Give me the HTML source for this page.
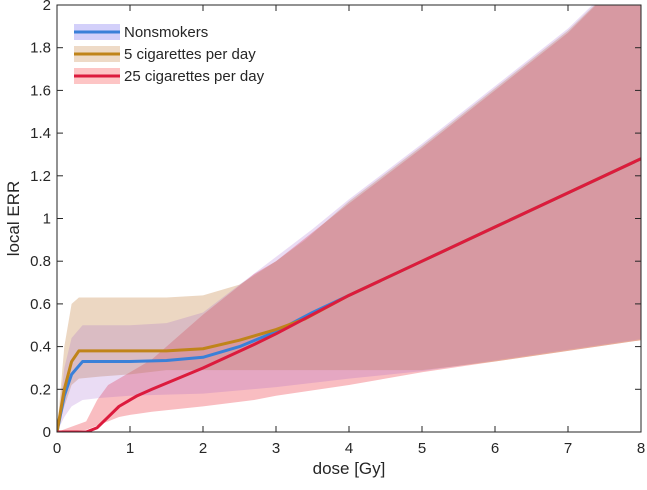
<!DOCTYPE html>
<html><head><meta charset="utf-8"><style>
body{margin:0;background:#fff;font-family:"Liberation Sans",sans-serif}
svg text{font-family:"Liberation Sans",sans-serif;fill:#262626}
</style></head><body>
<svg id="c" width="647" height="485"></svg>
<script>
const xTicks=[0,1,2,3,4,5,6,7,8];
const yTicks=[0,0.2,0.4,0.6,0.8,1,1.2,1.4,1.6,1.8,2];
const yTickLabels=["0","0.2","0.4","0.6","0.8","1","1.2","1.4","1.6","1.8","2"];
const nsDose=[0,0.1,0.2,0.35,0.6,1,1.5,2,2.5,3,3.5,4,5,6,7,8];
const nsMid=[0,0.17,0.27,0.33,0.33,0.33,0.335,0.35,0.40,0.47,0.56,0.64,0.80,0.96,1.12,1.28];
const nsUp=[0,0.3,0.44,0.5,0.5,0.5,0.51,0.56,0.69,0.82,0.95,1.09,1.35,1.62,1.89,2.22];
const nsLo=[0,0.07,0.12,0.15,0.16,0.17,0.175,0.18,0.195,0.21,0.23,0.25,0.285,0.335,0.385,0.435];
const c5Dose=[0,0.1,0.2,0.3,0.6,1,1.5,2,2.5,3,3.4,4,5,6,7,8];
const c5Mid=[0,0.2,0.33,0.38,0.38,0.38,0.38,0.39,0.43,0.48,0.53,0.64,0.80,0.96,1.12,1.28];
const c5Up=[0,0.4,0.6,0.63,0.63,0.63,0.63,0.64,0.69,0.8,0.9,1.08,1.34,1.61,1.88,2.21];
const c5Lo=[0,0.12,0.22,0.25,0.26,0.27,0.29,0.29,0.29,0.29,0.29,0.29,0.29,0.33,0.38,0.43];
const s25Dose=[0,0.4,0.55,0.7,0.85,1,1.1,1.3,2,2.7,3,4,5,6,7,8];
const s25Mid=[0,0,0.02,0.07,0.12,0.15,0.17,0.2,0.3,0.41,0.46,0.64,0.80,0.96,1.12,1.28];
const s25Up=[0,0.05,0.15,0.22,0.25,0.28,0.3,0.34,0.55,0.74,0.80,1.07,1.33,1.60,1.87,2.21];
const s25Lo=[0,0.01,0.03,0.05,0.07,0.08,0.085,0.095,0.12,0.15,0.17,0.22,0.28,0.33,0.38,0.43];

const X0=57,X1=641,Y0=432,Y1=5;
const xs=v=>X0+(v/8)*(X1-X0);
const ys=v=>Y0-(v/2)*(Y0-Y1);
const svg=document.getElementById('c');
const NS='http://www.w3.org/2000/svg';
function mk(t,a){const e=document.createElementNS(NS,t);for(const k in a)e.setAttribute(k,a[k]);svg.appendChild(e);return e;}
const defs=mk('defs',{});
const cp=document.createElementNS(NS,'clipPath');cp.setAttribute('id','clip');
const cr=document.createElementNS(NS,'rect');cr.setAttribute('x',X0);cr.setAttribute('y',Y1);cr.setAttribute('width',X1-X0);cr.setAttribute('height',Y0-Y1);
cp.appendChild(cr);defs.appendChild(cp);
function band(d,up,lo,fill,name){
  let p='M'+d.map((v,i)=>xs(v)+','+ys(up[i])).join('L');
  for(let i=d.length-1;i>=0;i--)p+='L'+xs(d[i])+','+ys(lo[i]);
  const e=mk('path',{d:p+'Z',fill:fill,'clip-path':'url(#clip)'});
  
  
}
function line(d,m,col,name){
  const e=mk('path',{d:'M'+d.map((v,i)=>xs(v)+','+ys(m[i])).join('L'),fill:'none',stroke:col,'stroke-width':3,'stroke-linejoin':'round','clip-path':'url(#clip)'});
  
  
}
band(s25Dose,s25Up,s25Lo,'rgba(240,90,100,0.4)','band-25-cigarettes');
band(c5Dose,c5Up,c5Lo,'rgba(200,140,80,0.35)','band-5-cigarettes');
band(nsDose,nsUp,nsLo,'rgba(150,80,200,0.2)','band-nonsmokers');
line(nsDose,nsMid,'#3a80d8','line-nonsmokers');
line(c5Dose,c5Mid,'#c0841a','line-5-cigarettes');
line(s25Dose,s25Mid,'#dc1b3d','line-25-cigarettes');
const bx=mk('rect',{x:X0,y:Y1,width:X1-X0,height:Y0-Y1,fill:'none',stroke:'#262626','stroke-width':1});


xTicks.forEach(v=>{
  mk('line',{x1:xs(v),x2:xs(v),y1:Y0,y2:Y0-6,stroke:'#262626'});
  mk('line',{x1:xs(v),x2:xs(v),y1:Y1,y2:Y1+6,stroke:'#262626'});
  const t=mk('text',{x:xs(v),y:Y0+21,'text-anchor':'middle','font-size':15});t.textContent=v;
  
  
});
yTicks.forEach((v,i)=>{
  mk('line',{x1:X0,x2:X0+6,y1:ys(v),y2:ys(v),stroke:'#262626'});
  mk('line',{x1:X1,x2:X1-6,y1:ys(v),y2:ys(v),stroke:'#262626'});
  const t=mk('text',{x:X0-6,y:ys(v)+5,'text-anchor':'end','font-size':15});t.textContent=yTickLabels[i];
  
  
});
let t=mk('text',{x:(X0+X1)/2,y:474,'text-anchor':'middle','font-size':17});t.textContent='dose [Gy]';


t=mk('text',{x:0,y:0,'text-anchor':'middle','font-size':17,transform:'translate(19,'+((Y0+Y1)/2)+') rotate(-90)'});t.textContent='local ERR';


const leg=[['Nonsmokers','rgba(130,120,240,0.35)','#3a80d8','legend-nonsmokers'],['5 cigarettes per day','rgba(205,150,95,0.35)','#c0841a','legend-5-cigarettes'],['25 cigarettes per day','rgba(252,150,150,0.55)','#dc1b3d','legend-25-cigarettes']];
leg.forEach((l,i)=>{
  const y=32+i*22;
  mk('rect',{x:74,y:y-8,width:46,height:16,fill:l[1]});
  mk('line',{x1:74,x2:120,y1:y,y2:y,stroke:l[2],'stroke-width':3});
  const e=mk('text',{x:124,y:y+5,'font-size':15});e.textContent=l[0];
  
  
});
</script>
</body></html>
